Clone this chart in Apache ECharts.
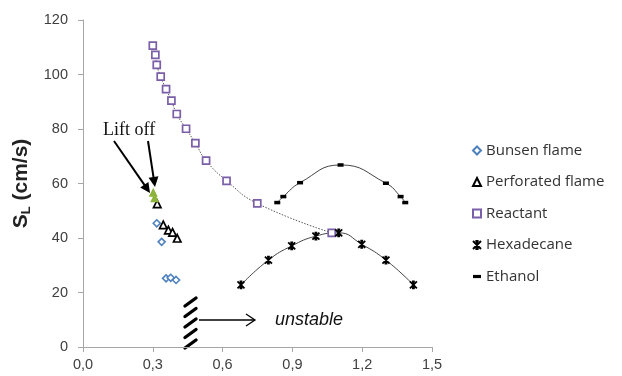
<!DOCTYPE html>
<html><head><meta charset="utf-8">
<script src="https://cdn.jsdelivr.net/npm/echarts@6/dist/echarts.min.js"></script>
<style>html,body{margin:0;padding:0;background:#fff}#c{width:622px;height:376px}</style>
</head><body><div id="c"></div><script>
// ---- data ----
const bunsenX = [0.317, 0.338, 0.357, 0.377, 0.400];
const bunsenY = [45.4, 38.6, 25.2, 25.4, 24.6];
const perfX = [0.319, 0.345, 0.367, 0.385, 0.405];
const perfY = [52.5, 44.8, 42.9, 42.1, 39.9];
const liftX = [0.302, 0.308];
const liftY = [56.8, 54.8];
const reactX = [0.300, 0.311, 0.317, 0.334, 0.357, 0.380, 0.403, 0.443, 0.483, 0.529, 0.617, 0.749, 1.069];
const reactY = [110.6, 107.2, 103.5, 99.2, 94.6, 90.4, 85.5, 80.1, 74.8, 68.4, 61.0, 52.7, 41.9];
const hexX = [0.679, 0.797, 0.897, 1.001, 1.099, 1.198, 1.302, 1.420];
const hexY = [22.8, 31.9, 37.1, 40.7, 41.9, 37.7, 31.9, 22.8];
const ethX = [0.835, 0.861, 0.933, 1.107, 1.302, 1.365, 1.385];
const ethY = [53.0, 55.2, 60.3, 66.8, 60.1, 55.2, 53.0];
const seriesNames = ['Bunsen flame', 'Perforated flame', 'Reactant', 'Hexadecane', 'Ethanol'];
const xMin = 0, xMax = 1.5, xStep = 0.3;
const yMin = 0, yMax = 120, yStep = 20;

const zip = (a, b) => a.map((v, i) => [v, b[i]]);
const starPath = 'path://M0,0L10,10M10,0L0,10M5,0L5,10M3,0L7,0M3,10L7,10';
const dashPath = 'path://M0,0H10V4H0Z';
const AX = '#a6a6a6';
const LAB = '#404040';

function arrowEls(x1, y1, x2, y2, filled, hl, hw) {
  const dx = x2 - x1, dy = y2 - y1, L = Math.hypot(dx, dy), ux = dx / L, uy = dy / L;
  const bx = x2 - ux * hl, by = y2 - uy * hl;
  const p1 = [bx - uy * hw, by + ux * hw], p2 = [bx + uy * hw, by - ux * hw];
  const els = [];
  if (filled) {
    els.push({type: 'line', shape: {x1: x1, y1: y1, x2: bx + ux * 2, y2: by + uy * 2}, style: {stroke: '#000', lineWidth: 2}});
    els.push({type: 'polygon', shape: {points: [[x2, y2], p1, p2]}, style: {fill: '#000'}});
  } else {
    els.push({type: 'line', shape: {x1: x1, y1: y1, x2: x2, y2: y2}, style: {stroke: '#000', lineWidth: 1.3}});
    els.push({type: 'polyline', shape: {points: [p1, [x2, y2], p2]}, style: {stroke: '#000', lineWidth: 1.3, fill: null}});
  }
  return els;
}

const hatch = [];
for (let k = 0; k < 5; k++) {
  const yb = 306 + k * 10.5;
  hatch.push({type: 'line', shape: {x1: 185, y1: yb, x2: 196, y2: yb - 8}, style: {stroke: '#000', lineWidth: 3.4, lineCap: 'round'}});
}

const chart = echarts.init(document.getElementById('c'), null, {renderer: 'canvas'});
chart.setOption({
  animation: false,
  backgroundColor: '#fff',
  grid: {left: 83, right: 190, top: 20, bottom: 29, containLabel: false},
  xAxis: {
    type: 'value', min: xMin, max: xMax, interval: xStep,
    axisLine: {show: true, onZero: false, lineStyle: {color: AX, width: 1}},
    axisTick: {show: true, length: 5, lineStyle: {color: AX}},
    splitLine: {show: false},
    axisLabel: {color: LAB, fontFamily: 'Liberation Sans', fontSize: 14.5, margin: 10,
      formatter: v => v.toFixed(1).replace('.', ',')}
  },
  yAxis: {
    type: 'value', min: yMin, max: yMax, interval: yStep,
    name: '{s|S}{sub|L}{s| (cm/s)}', nameLocation: 'middle', nameGap: 45, nameRotate: 90,
    nameTextStyle: {
      rich: {
        s: {fontFamily: 'Liberation Sans', fontWeight: 'bold', fontSize: 21, color: '#222', lineHeight: 24},
        sub: {fontFamily: 'Liberation Sans', fontWeight: 'bold', fontSize: 13, color: '#222', lineHeight: 13, verticalAlign: 'bottom'}
      }
    },
    axisLine: {show: true, lineStyle: {color: AX, width: 1}},
    axisTick: {show: true, length: 5, lineStyle: {color: AX}},
    splitLine: {show: false},
    axisLabel: {color: LAB, fontFamily: 'Liberation Sans', fontSize: 14.5, margin: 15}
  },
  legend: {
    orient: 'vertical', left: 467, top: 137, itemGap: 14.5, itemWidth: 8, itemHeight: 8,
    data: [
      {name: 'Bunsen flame'}, {name: 'Perforated flame'}, {name: 'Reactant'},
      {name: 'Hexadecane', icon: starPath}, {name: 'Ethanol', icon: dashPath}
    ],
    textStyle: {fontFamily: 'Open Sans', fontSize: 15, color: '#333', lineHeight: 17}
  },
  series: [
    {name: 'reactFit', type: 'line', data: zip(reactX, reactY), smooth: 0.5, showSymbol: false, silent: true,
      lineStyle: {color: '#555', width: 1, type: [1.5, 1.5]}, z: 1},
    {name: 'hexFit', type: 'line', data: zip(hexX, hexY), smooth: 0.5, showSymbol: false, silent: true,
      lineStyle: {color: '#444', width: 1}, z: 1},
    {name: 'ethFit', type: 'line', data: zip(ethX, ethY), smooth: 0.5, showSymbol: false, silent: true,
      lineStyle: {color: '#444', width: 1}, z: 1},
    {name: 'Bunsen flame', type: 'scatter', data: zip(bunsenX, bunsenY), symbol: 'diamond', symbolSize: 7,
      itemStyle: {color: '#fff', borderColor: '#4f81bd', borderWidth: 1.6, opacity: 1}, z: 3},
    {name: 'Perforated flame', type: 'scatter', data: zip(perfX, perfY), symbol: 'triangle', symbolSize: 7.5,
      itemStyle: {color: '#fff', borderColor: '#000', borderWidth: 1.7, opacity: 1}, z: 3},
    {name: 'Reactant', type: 'scatter', data: zip(reactX, reactY), symbol: 'rect', symbolSize: 7,
      itemStyle: {color: '#fff', borderColor: '#7a5ea8', borderWidth: 1.7, opacity: 1}, z: 3},
    {name: 'Hexadecane', type: 'scatter', data: zip(hexX, hexY), symbol: starPath, symbolSize: 7,
      itemStyle: {color: '#000', borderColor: '#000', borderWidth: 1.8, opacity: 1}, z: 3},
    {name: 'Ethanol', type: 'scatter', data: zip(ethX, ethY), symbol: 'rect', symbolSize: [6, 3.5],
      itemStyle: {color: '#000', opacity: 1}, z: 3},
    {name: 'Lift off', type: 'scatter', data: zip(liftX, liftY), symbol: 'triangle', symbolSize: 9,
      itemStyle: {color: '#8db33b', opacity: 1}, z: 4}
  ],
  graphic: [
    {type: 'text', left: 103, top: 121, style: {text: 'Lift off', font: '18px "Liberation Serif"', fill: '#111'}},
    ...arrowEls(114, 141, 150, 193, true, 10, 5),
    ...arrowEls(148, 141, 155, 187, true, 10, 5),
    ...hatch,
    ...arrowEls(199, 320, 255, 320, false, 9, 6),
    {type: 'text', left: 275, top: 311, style: {text: 'unstable', font: 'italic 18px "Liberation Sans"', fill: '#111'}}
  ]
});
</script></body></html>
